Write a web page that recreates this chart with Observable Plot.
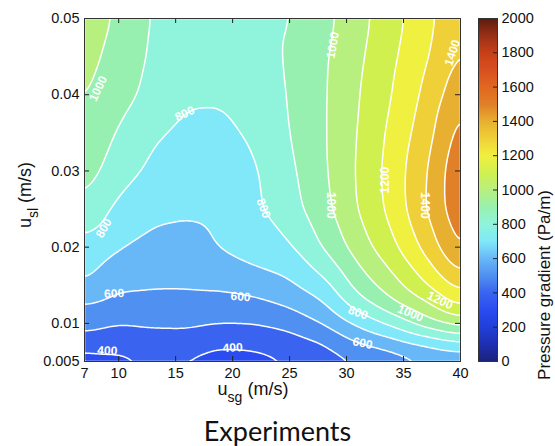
<!DOCTYPE html>
<html><head><meta charset="utf-8">
<script src="https://cdn.jsdelivr.net/npm/d3@7"></script>
<script src="https://cdn.jsdelivr.net/npm/@observablehq/plot@0.6"></script>
<style>
body{margin:0;background:#fff;}
#wrap{position:relative;width:555px;height:446px;overflow:hidden;font-family:"Liberation Sans",Arial,sans-serif;}
#main{position:absolute;left:0;top:0;}
#bar{position:absolute;left:470px;top:0;}
#caption{position:absolute;left:0;width:555px;top:417px;text-align:center;font:27px/27px Lato,sans-serif;color:#111;}
svg{overflow:visible;}
</style></head><body>
<div id="wrap"><div id="main"></div><div id="bar"></div><div id="caption">Experiments</div></div>
<script>
// gas superficial velocity (x) and liquid superficial velocity (y) grid
const usg = [7, 10, 13, 16, 19, 22, 25, 28, 31, 34, 37, 40];
const usl = [0.005, 0.0075, 0.01, 0.0125, 0.015, 0.0175, 0.02, 0.025, 0.03, 0.035, 0.04, 0.045, 0.05];
// pressure gradient (Pa/m), one row per usl value
const pressure = [
  [340, 370, 402, 385, 350, 360, 392, 440, 480, 530, 580, 595],
  [454, 429, 455, 452, 420, 428, 455, 500, 600, 657, 722, 788],
  [540, 507, 516, 522, 503, 504, 532, 604, 721, 825, 958, 1044],
  [598, 561, 567, 568, 560, 574, 615, 687, 850, 981, 1083, 1225],
  [700, 619, 609, 608, 617, 640, 682, 762, 939, 1057, 1195, 1341],
  [733, 663, 638, 640, 662, 700, 730, 840, 995, 1118, 1264, 1440],
  [765, 705, 670, 660, 708, 749, 788, 909, 1048, 1174, 1333, 1520],
  [885, 770, 725, 715, 725, 785, 858, 967, 1103, 1232, 1400, 1585],
  [940, 852, 775, 745, 740, 790, 878, 984, 1110, 1242, 1391, 1592],
  [990, 888, 812, 785, 780, 818, 898, 988, 1103, 1226, 1356, 1545],
  [1010, 938, 870, 808, 808, 840, 905, 988, 1094, 1200, 1324, 1475],
  [1040, 957, 885, 850, 843, 855, 911, 985, 1080, 1182, 1288, 1415],
  [1075, 980, 890, 865, 860, 870, 895, 968, 1064, 1163, 1266, 1395]
];
const levels = [0,100,200,300,400,500,600,700,800,900,1000,1100,1200,1300,1400,1500,1600,1700,1800,1900,2000];
const xTicks = [7, 10, 15, 20, 25, 30, 35, 40];
const yTicks = [0.005, 0.01, 0.02, 0.03, 0.04, 0.05];
const barTicks = [0, 200, 400, 600, 800, 1000, 1200, 1400, 1600, 1800, 2000];
const colorStops = [0,100,200,300,400,500,600,700,800,900,1000,1100,1200,1300,1400,1500,1600,1700,1800,1900,2000];
const colorRange = ["#1a237a","#1e30b0","#2040d8","#2a4cf0","#3a64f0","#5090f0","#68b8f8","#80e8f8","#90f4dc","#98f0b0",
  "#b8f080","#d0f050","#f0f040","#f0d038","#e8b030","#e08028","#e06820","#d85020","#c84018","#983018","#5c1c0c"];
// contour labels
const labelText = ["1000","800","800","800","600","600","400","400","1000","1000","1200","1400","1400","800","1000","1200","600"];
const labelX = [8.2, 15.8, 8.7, 22.7, 9.6, 20.7, 9.0, 20.0, 28.8, 28.6, 33.4, 36.9, 39.3, 31.0, 35.6, 38.2, 31.4];
const labelY = [0.0408, 0.0375, 0.0225, 0.0251, 0.0139, 0.0135, 0.0064, 0.0068, 0.0465, 0.0255, 0.0288, 0.0255, 0.0455, 0.0114, 0.0113, 0.0130, 0.0074];
const labelRotate = [-65, -25, -60, 70, -3, 5, 3, -3, -80, 90, -90, 90, -72, 20, 22, 25, 12];

const points = usl.flatMap((y, i) => usg.map((x, j) => ({x, y, v: pressure[i][j]})));
const labels = labelText.map((t, i) => ({t, x: labelX[i], y: labelY[i], r: labelRotate[i]}));

const W = 555, H = 400, mL = 84, mR = 95, mT = 18, mB = 39;
const fw = W - mL - mR, fh = H - mT - mB;
const color = {type: "linear", domain: colorStops, range: colorRange, interpolate: "rgb", clamp: true};
const baseStyle = {fontFamily: "'Liberation Sans', Arial, sans-serif", fontSize: "14.5px", color: "#111", background: "transparent", overflow: "visible"};

const main = Plot.plot({
  width: W, height: H, marginLeft: mL, marginRight: mR, marginTop: mT, marginBottom: mB,
  style: baseStyle,
  x: {domain: [7, 40], ticks: xTicks, tickSize: 0, tickPadding: 6, label: null},
  y: {domain: [0.005, 0.05], ticks: yTicks, tickSize: 0, tickPadding: 5, tickFormat: d => String(d), label: null},
  color,
  marks: [
    Plot.contour(points, {x: "x", y: "y", fill: "v", interpolate: "barycentric", blur: 4, thresholds: levels,
      stroke: "white", strokeWidth: 1.5, clip: true}),
    Plot.text(labels, {x: "x", y: "y", text: "t", rotate: "r", fill: "white", fontSize: 12, fontWeight: "bold"}),
    Plot.tickX(xTicks, {x: d => d, insetTop: fh - 5, stroke: "#222"}),
    Plot.tickX(xTicks, {x: d => d, insetBottom: fh - 5, stroke: "#222"}),
    Plot.tickY(yTicks, {y: d => d, insetRight: fw - 5, stroke: "#222"}),
    Plot.tickY(yTicks, {y: d => d, insetLeft: fw - 5, stroke: "#222"}),
    Plot.frame({stroke: "#333"})
  ]
});
document.getElementById("main").append(main);

// axis titles with subscripts
const svg = d3.select(main);
const xt = svg.append("text").attr("x", 253).attr("y", 395).attr("text-anchor", "middle")
  .attr("font-size", 18).attr("fill", "#111");
xt.append("tspan").text("u");
xt.append("tspan").attr("font-size", 14).attr("dy", 7).text("sg");
xt.append("tspan").attr("dy", -7).text("\u00a0(m/s)");
const yt = svg.append("text").attr("transform", "translate(31,195) rotate(-90)").attr("text-anchor", "middle")
  .attr("font-size", 18).attr("fill", "#111");
yt.append("tspan").text("u");
yt.append("tspan").attr("font-size", 14).attr("dy", 7).text("sl");
yt.append("tspan").attr("dy", -7).text("\u00a0(m/s)");

const bar = Plot.plot({
  width: 85, height: H, marginLeft: 8, marginRight: 58, marginTop: mT, marginBottom: mB,
  style: baseStyle,
  x: {domain: [0, 1], axis: null},
  y: {domain: [0, 2000], ticks: barTicks, tickSize: 0, tickPadding: 4, tickFormat: d => String(d), label: null, axis: "right"},
  color,
  marks: [
    Plot.raster({x1: 0, x2: 1, y1: 0, y2: 2000, fill: (x, y) => y}),
    Plot.tickY(barTicks, {y: d => d, insetLeft: 15, stroke: "#222"}),
    Plot.frame({stroke: "#333"}),
    Plot.text(["Pressure gradient (Pa/m)"], {frameAnchor: "right", dx: 47, rotate: -90, fontSize: 17, fill: "#111"})
  ]
});
document.getElementById("bar").append(bar);
</script>
</body></html>
